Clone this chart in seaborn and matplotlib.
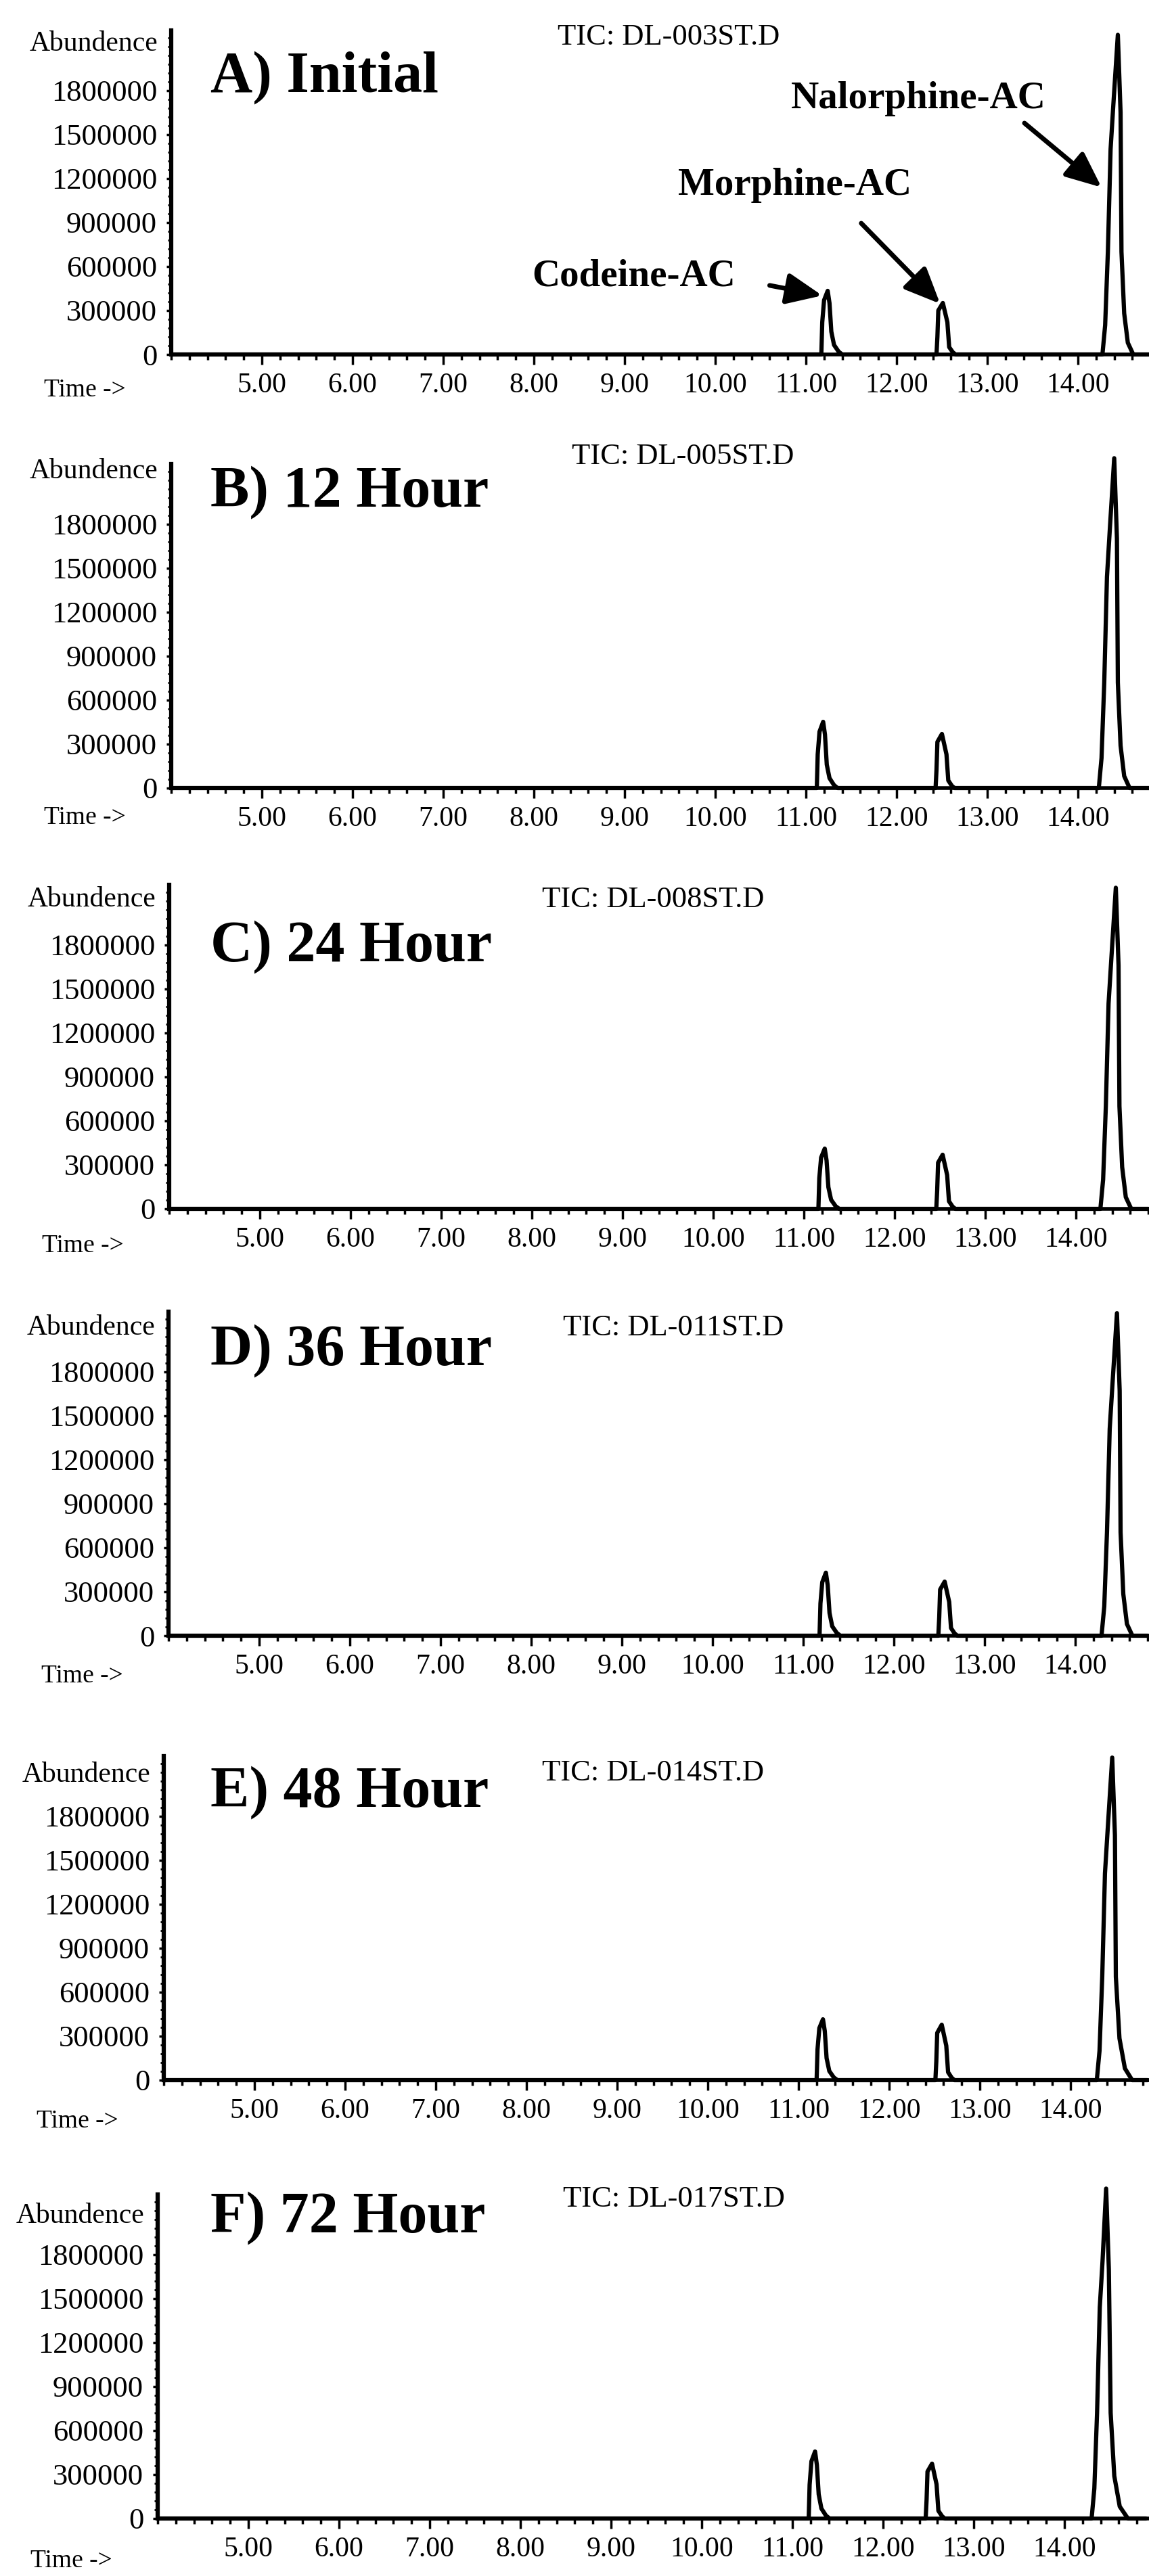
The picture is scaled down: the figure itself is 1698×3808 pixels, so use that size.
"""
Six stacked GC-MS total ion chromatograms (stability study)
"""
import pandas as pd
import seaborn as sns
import matplotlib.pyplot as plt
from matplotlib.ticker import FixedLocator, MultipleLocator, FuncFormatter

# panel labels and file names
titles = ["A) Initial", "B) 12 Hour", "C) 24 Hour", "D) 36 Hour",
          "E) 48 Hour", "F) 72 Hour"]
tic_names = ["TIC: DL-003ST.D", "TIC: DL-005ST.D", "TIC: DL-008ST.D",
             "TIC: DL-011ST.D", "TIC: DL-014ST.D", "TIC: DL-017ST.D"]

y_ticks = [0, 300000, 600000, 900000, 1200000, 1500000, 1800000]
x_ticks = [5, 6, 7, 8, 9, 10, 11, 12, 13, 14]

# traces: time [min], abundance
time_a = [4.00, 11.17, 11.18, 11.20, 11.24, 11.26, 11.28, 11.31, 11.36, 11.40,
          12.44, 12.45, 12.46, 12.51, 12.56, 12.58, 12.62, 12.65,
          14.27, 14.30, 14.33, 14.36, 14.39, 14.44, 14.47, 14.48, 14.51,
          14.55, 14.61, 14.80]
abund_a = [0, 0, 220000, 370000, 434000, 350000, 156000, 65000, 20000, 0,
           0, 120000, 300000, 351000, 220000, 50000, 15000, 0,
           0, 200000, 700000, 1400000, 1700000, 2180000, 1650000, 700000,
           280000, 80000, 0, 0]

time_b = [4.00, 11.12, 11.13, 11.15, 11.19, 11.21, 11.23, 11.26, 11.31, 11.35,
          12.43, 12.44, 12.45, 12.50, 12.55, 12.57, 12.61, 12.64,
          14.23, 14.26, 14.29, 14.32, 14.35, 14.40, 14.43, 14.44, 14.47,
          14.51, 14.57, 14.80]
abund_b = [0, 0, 230000, 385000, 452000, 365000, 160000, 68000, 20000, 0,
           0, 125000, 315000, 369000, 230000, 52000, 15000, 0,
           0, 205000, 720000, 1440000, 1750000, 2250000, 1700000, 720000,
           290000, 82000, 0, 0]

time_c = [4.00, 11.16, 11.17, 11.19, 11.23, 11.25, 11.27, 11.30, 11.35, 11.39,
          12.46, 12.47, 12.48, 12.53, 12.58, 12.60, 12.64, 12.67,
          14.27, 14.30, 14.33, 14.36, 14.39, 14.44, 14.47, 14.48, 14.51,
          14.55, 14.61, 14.80]
abund_c = [0, 0, 210000, 350000, 411000, 330000, 148000, 62000, 18000, 0,
           0, 125000, 315000, 369000, 230000, 52000, 15000, 0,
           0, 200000, 700000, 1400000, 1700000, 2190000, 1660000, 700000,
           285000, 80000, 0, 0]

time_d = [4.00, 11.18, 11.19, 11.21, 11.25, 11.27, 11.29, 11.32, 11.37, 11.41,
          12.49, 12.50, 12.51, 12.56, 12.61, 12.63, 12.67, 12.70,
          14.29, 14.32, 14.35, 14.38, 14.41, 14.46, 14.49, 14.50, 14.53,
          14.57, 14.63, 14.80]
abund_d = [0, 0, 220000, 365000, 430000, 345000, 155000, 64000, 19000, 0,
           0, 125000, 315000, 369000, 230000, 52000, 15000, 0,
           0, 200000, 705000, 1410000, 1710000, 2200000, 1670000, 705000,
           285000, 80000, 0, 0]

time_e = [4.00, 11.20, 11.21, 11.23, 11.27, 11.29, 11.31, 11.34, 11.39, 11.43,
          12.51, 12.52, 12.53, 12.58, 12.63, 12.65, 12.69, 12.72,
          14.29, 14.32, 14.35, 14.38, 14.41, 14.46, 14.49, 14.50, 14.54,
          14.60, 14.68, 14.85]
abund_e = [0, 0, 210000, 355000, 415000, 335000, 150000, 62000, 18000, 0,
           0, 128000, 322000, 378000, 235000, 54000, 16000, 0,
           0, 200000, 705000, 1410000, 1710000, 2200000, 1670000, 705000,
           285000, 80000, 0, 0]

time_f = [4.00, 11.18, 11.19, 11.21, 11.25, 11.27, 11.29, 11.32, 11.37, 11.41,
          12.47, 12.48, 12.49, 12.54, 12.59, 12.61, 12.65, 12.68,
          14.30, 14.33, 14.36, 14.39, 14.42, 14.46, 14.49, 14.51, 14.55,
          14.61, 14.70, 14.90]
abund_f = [0, 0, 230000, 390000, 457000, 365000, 165000, 68000, 20000, 0,
           0, 128000, 320000, 374000, 233000, 53000, 16000, 0,
           0, 205000, 720000, 1440000, 1750000, 2250000, 1700000, 720000,
           290000, 82000, 0, 0]

traces = [(time_a, abund_a), (time_b, abund_b), (time_c, abund_c),
          (time_d, abund_d), (time_e, abund_e), (time_f, abund_f)]

# peak labels in panel A: (label, text pos, arrow tail, arrow head)
peak_names = ["Codeine-AC", "Morphine-AC", "Nalorphine-AC"]
label_pos = [(9.10, 535000), (10.88, 1154000), (12.24, 1745000)]
arrow_tail = [(10.60, 471000), (11.61, 895000), (13.41, 1578000)]
arrow_head = [(11.18, 402000), (12.48, 346000), (14.26, 1140000)]

# page layout in pixels of the scanned figure
W, H = 1699, 3808
baseline_px = [524, 1165, 1787, 2418, 3075, 3723]
left_px = [253, 253, 250, 249, 242, 233]
title_y_px = [115, 728, 1400, 1997, 2650, 3279]
tic_pos_px = [(824, 55), (845, 675), (801, 1330), (832, 1963), (801, 2621),
              (832, 3251)]
abund_y_px = [65, 697, 1330, 1963, 2624, 3276]
time_y_px = [577, 1209, 1842, 2478, 3136, 3786]
axis_h_px = 479
y_top = 2210000
px_per_min = 134

sns.set_style("ticks")
plt.rcParams['font.family'] = ['Liberation Serif', 'DejaVu Serif']
plt.rcParams['text.color'] = 'black'
plt.rcParams['xtick.color'] = 'black'
plt.rcParams['ytick.color'] = 'black'
plt.rcParams['axes.edgecolor'] = 'black'

fig = plt.figure(figsize=(W / 100, H / 100), dpi=100)

for i in range(6):
    left = left_px[i]
    base = baseline_px[i]
    ax = fig.add_axes([left / W, 1 - base / H, (W - left) / W, axis_h_px / H])
    df = pd.DataFrame({"time": traces[i][0], "abundance": traces[i][1]})
    sns.lineplot(data=df, x="time", y="abundance", ax=ax, color="black",
                 linewidth=4.5, estimator=None, sort=False, clip_on=False)
    ax.set_xlim(4.0, 4.0 + (W - left) / px_per_min)
    ax.set_ylim(0, y_top)
    ax.set_xlabel("")
    ax.set_ylabel("")

    for s in ["top", "right"]:
        ax.spines[s].set_visible(False)
    ax.spines["left"].set_linewidth(4.5)
    ax.spines["bottom"].set_linewidth(4)

    ax.xaxis.set_major_locator(FixedLocator(x_ticks))
    ax.xaxis.set_minor_locator(MultipleLocator(0.2))
    ax.xaxis.set_major_formatter(FuncFormatter(lambda v, p: f"{v:.2f}"))
    ax.yaxis.set_major_locator(FixedLocator(y_ticks))
    ax.yaxis.set_minor_locator(MultipleLocator(60000))
    ax.yaxis.set_major_formatter(FuncFormatter(lambda v, p: f"{int(v)}"))

    ax.tick_params(axis="x", which="major", direction="out", length=11,
                   width=2.5, labelsize=30, pad=8)
    ax.tick_params(axis="x", which="minor", direction="out", length=6,
                   width=2.5)
    ax.tick_params(axis="y", which="major", direction="out", length=5,
                   width=2.5, labelsize=32, pad=10)
    ax.tick_params(axis="y", which="minor", direction="out", length=3.5,
                   width=2)

    fig.text(311 / W, 1 - title_y_px[i] / H, titles[i], fontsize=62,
             fontweight="bold", ha="left", va="center")
    tx, ty = tic_pos_px[i]
    fig.text(tx / W, 1 - ty / H, tic_names[i], fontsize=32,
             ha="left", va="center")
    fig.text((left - 20) / W, 1 - abund_y_px[i] / H, "Abundence",
             fontsize=30, ha="right", va="center")
    fig.text((left - 188) / W, 1 - time_y_px[i] / H, "Time ->",
             fontsize=27, ha="left", va="center")

    if i == 0:
        for name, pos, tail, head in zip(peak_names, label_pos, arrow_tail,
                                         arrow_head):
            ax.text(pos[0], pos[1], name, fontsize=41, fontweight="bold",
                    ha="center", va="center")
            ax.annotate("", xy=head, xytext=tail,
                        arrowprops=dict(arrowstyle="-|>,head_length=0.8,"
                                        "head_width=0.35",
                                        lw=5, color="black",
                                        mutation_scale=40,
                                        shrinkA=0, shrinkB=0))

plt.savefig("out.png", dpi=100)
